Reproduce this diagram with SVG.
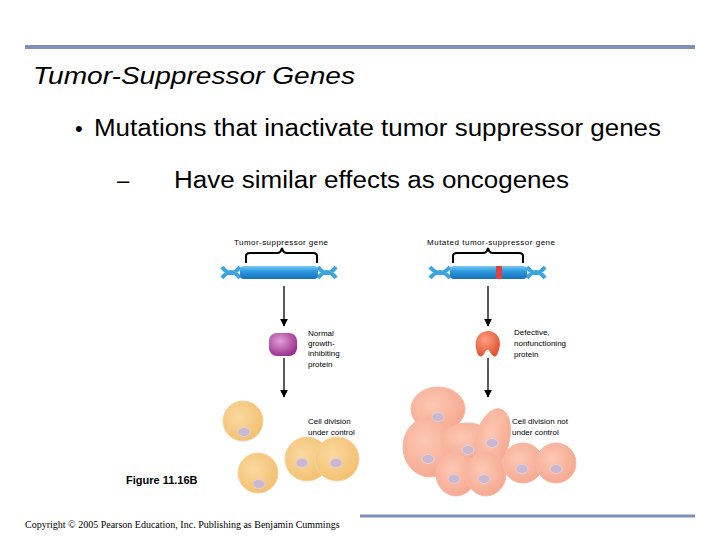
<svg xmlns="http://www.w3.org/2000/svg" width="720" height="540" viewBox="0 0 720 540">
<defs>
<style>
.s{font-family:"Liberation Sans",Arial,sans-serif;fill:#000}
.sm{font-family:"Liberation Sans",Arial,sans-serif;font-size:8px;fill:#000}
.ar{stroke:#000;stroke-width:1.3;fill:none;marker-end:url(#ah)}
.br{stroke:#000;stroke-width:2;fill:none}
.hx{stroke:#3aa5e0;stroke-width:4;fill:none}
.y{fill:url(#yc);stroke:#f6d49a;stroke-width:1}
.p{fill:url(#pc);stroke:#f8b8a4;stroke-width:1}
.n{fill:#c9b8cf;stroke:#e0d0e0;stroke-width:1}
</style>
<marker id="ah" viewBox="0 0 10 10" refX="9" refY="5" markerWidth="6" markerHeight="6" orient="auto"><path d="M0,0L10,5L0,10z" fill="#000"/></marker>
<linearGradient id="bar" x1="0" y1="0" x2="0" y2="1"><stop offset="0" stop-color="#7cc8f0"/><stop offset="0.4" stop-color="#2b9be0"/><stop offset="1" stop-color="#1a70b8"/></linearGradient>
<radialGradient id="yc" cx="0.4" cy="0.4" r="0.7"><stop offset="0" stop-color="#fbd9a0"/><stop offset="1" stop-color="#f2bd6c"/></radialGradient>
<radialGradient id="pc" cx="0.4" cy="0.4" r="0.7"><stop offset="0" stop-color="#fdc8b4"/><stop offset="1" stop-color="#f5a58c"/></radialGradient>
<radialGradient id="pu" cx="0.4" cy="0.35" r="0.7"><stop offset="0" stop-color="#e0a0d8"/><stop offset="1" stop-color="#9a2a8a"/></radialGradient>
<radialGradient id="rd" cx="0.4" cy="0.35" r="0.7"><stop offset="0" stop-color="#fca080"/><stop offset="1" stop-color="#e05030"/></radialGradient>
</defs>
<rect width="720" height="540" fill="#fff"/>
<line x1="25" y1="47" x2="695" y2="47" stroke="#8090b8" stroke-width="4"/>
<line x1="360" y1="516" x2="695" y2="516" stroke="#8090b8" stroke-width="3"/>
<text class="s" x="33" y="84" font-size="24" font-style="italic" textLength="322" lengthAdjust="spacingAndGlyphs">Tumor-Suppressor Genes</text>
<text class="s" x="75" y="136" font-size="22">•</text>
<text class="s" x="94" y="136" font-size="23" textLength="567" lengthAdjust="spacingAndGlyphs">Mutations that inactivate tumor suppressor genes</text>
<text class="s" x="117" y="188" font-size="22">–</text>
<text class="s" x="174" y="188" font-size="23" textLength="395" lengthAdjust="spacingAndGlyphs">Have similar effects as oncogenes</text>

<g id="gene-normal">
<text class="sm" x="234" y="245" textLength="94">Tumor-suppressor gene</text>
<path class="br" d="M246,263 V256 Q246,253 250,253 H277 Q281,253 282,248 Q283,253 287,253 H313 Q317,253 317,256 V263"/>
<path class="hx" d="M222,267 Q231,279 240,267 M222,278 Q231,266 240,278 M318,267 Q327,279 336,267 M318,278 Q327,266 336,278"/>
<rect x="240" y="266" width="78" height="13" rx="4" fill="url(#bar)"/>
</g>
<g id="gene-mutated">
<text class="sm" x="427" y="245" textLength="128">Mutated tumor-suppressor gene</text>
<path class="br" d="M453,263 V256 Q453,253 457,253 H483 Q487,253 488,248 Q489,253 493,253 H519 Q523,253 523,256 V263"/>
<path class="hx" d="M430,267 Q440,279 450,267 M430,278 Q440,266 450,278 M527,267 Q536,279 545,267 M527,278 Q536,266 545,278"/>
<rect x="450" y="266" width="77" height="13" rx="4" fill="url(#bar)"/>
<rect x="496" y="266" width="6" height="13" fill="#e04040"/>
</g>
<g id="protein-normal">
<rect x="269" y="333" width="28" height="23" rx="8" fill="url(#pu)"/>
<text class="sm" x="308" y="336">Normal</text>
<text class="sm" x="308" y="346">growth-</text>
<text class="sm" x="308" y="356">inhibiting</text>
<text class="sm" x="308" y="367">protein</text>
</g>
<g id="protein-defective">
<path d="M478,355 Q472,340 481,333 Q490,328 497,335 Q503,342 497,355 Q494,359 490,352 Q488,347 485,352 Q482,359 478,355z" fill="url(#rd)"/>
<text class="sm" x="514" y="335">Defective,</text>
<text class="sm" x="514" y="346">nonfunctioning</text>
<text class="sm" x="514" y="357">protein</text>
</g>
<g id="cells-normal">
<circle class="y" cx="243" cy="421" r="20"/><ellipse class="n" cx="244" cy="432" rx="6" ry="4.5"/>
<circle class="y" cx="258" cy="473" r="20"/><ellipse class="n" cx="259" cy="484" rx="6" ry="4.5"/>
<circle class="y" cx="307" cy="459" r="22"/><circle class="y" cx="337" cy="459" r="22"/>
<ellipse class="n" cx="302" cy="463" rx="6" ry="4.5"/><ellipse class="n" cx="336" cy="463" rx="6" ry="4.5"/>
<text class="sm" x="308" y="424">Cell division</text>
<text class="sm" x="308" y="435">under control</text>
</g>
<g id="cells-cancer">
<ellipse class="p" cx="438" cy="409" rx="27" ry="22"/>
<ellipse class="p" cx="430" cy="447" rx="27" ry="30"/>
<ellipse class="p" cx="467" cy="441" rx="26" ry="18"/>
<ellipse class="p" cx="492" cy="441" rx="17" ry="33" transform="rotate(15 492 441)"/>
<ellipse class="p" cx="456" cy="474" rx="20" ry="22"/><ellipse class="p" cx="486" cy="474" rx="20" ry="22"/>
<circle class="p" cx="523" cy="463" r="20"/><circle class="p" cx="556" cy="463" r="20"/>
<ellipse class="n" cx="438" cy="417" rx="6" ry="4.5"/><ellipse class="n" cx="428" cy="459" rx="6" ry="4.5"/>
<ellipse class="n" cx="468" cy="450" rx="6" ry="4.5"/><ellipse class="n" cx="492" cy="443" rx="6" ry="4.5"/>
<ellipse class="n" cx="454" cy="479" rx="6" ry="4.5"/><ellipse class="n" cx="484" cy="479" rx="6" ry="4.5"/>
<ellipse class="n" cx="522" cy="469" rx="6" ry="4.5"/><ellipse class="n" cx="556" cy="469" rx="6" ry="4.5"/>
<text class="sm" x="512" y="424">Cell division not</text>
<text class="sm" x="512" y="435">under control</text>
</g>
<g id="connectors">
<line class="ar" x1="284" y1="286" x2="284" y2="326"/>
<line class="ar" x1="284" y1="358" x2="284" y2="397"/>
<line class="ar" x1="488" y1="286" x2="488" y2="326"/>
<line class="ar" x1="488" y1="358" x2="488" y2="397"/>
</g>
<text class="s" x="126" y="484" font-size="11" font-weight="bold">Figure 11.16B</text>
<text x="25" y="528" font-family="Liberation Serif,serif" font-size="10">Copyright © 2005 Pearson Education, Inc. Publishing as Benjamin Cummings</text>
</svg>
